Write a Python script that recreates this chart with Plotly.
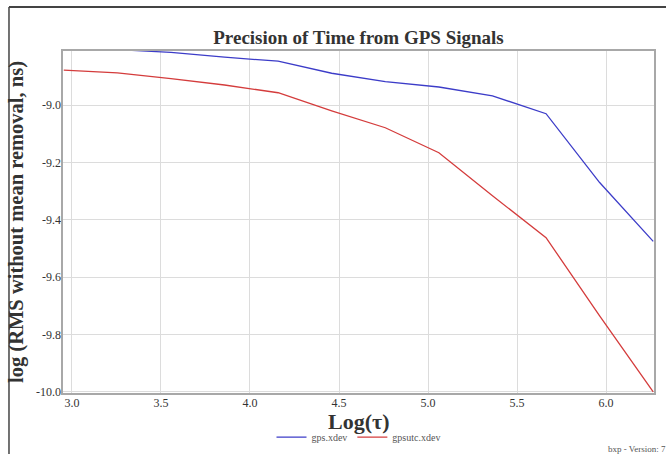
import plotly.graph_objects as go

# log10(tau) sample points
log_tau = [2.954, 3.255, 3.556, 3.857, 4.158, 4.459, 4.760, 5.061, 5.362, 5.663, 5.964, 6.265]

gps_xdev = [None, -8.807, -8.816, -8.833, -8.847, -8.889, -8.918, -8.937, -8.968, -9.030, -9.270, -9.475]
gpsutc_xdev = [-8.878, -8.888, -8.908, -8.930, -8.957, -9.020, -9.079, -9.166, -9.316, -9.462, -9.735, -10.000]

y_ticks = [-9.0, -9.2, -9.4, -9.6, -9.8, -10.0]
x_ticks = [3.0, 3.5, 4.0, 4.5, 5.0, 5.5, 6.0]

SERIF = "Liberation Serif, Times New Roman, serif"
TEXT = "#333333"

fig = go.Figure()
fig.add_trace(go.Scatter(
    x=log_tau, y=gps_xdev, mode="lines", name="gps.xdev",
    line=dict(color="#3c3cc8", width=1.3), connectgaps=False,
))
fig.add_trace(go.Scatter(
    x=log_tau, y=gpsutc_xdev, mode="lines", name="gpsutc.xdev",
    line=dict(color="#d43c3c", width=1.3),
))

# outer frame of the picture (top and left edges)
fig.add_shape(type="line", xref="paper", yref="paper",
              x0=-0.0894, x1=1.03, y0=1.125, y1=1.125,
              line=dict(color="#444444", width=2))
fig.add_shape(type="line", xref="paper", yref="paper",
              x0=-0.0894, x1=-0.0894, y0=1.125, y1=-0.2,
              line=dict(color="#444444", width=1.5))
# plot-area frame
fig.add_shape(type="rect", xref="paper", yref="paper",
              x0=0, x1=1, y0=0, y1=1,
              line=dict(color="#a8a8a8", width=2))

# x-axis title placed by hand (axis title standoff can't get close enough)
fig.add_annotation(
    text="<b>Log(τ)</b>", xref="paper", yref="paper",
    x=0.5, y=-0.081, xanchor="center", yanchor="middle", showarrow=False,
    font=dict(family=SERIF, size=22, color=TEXT),
)
fig.add_annotation(
    text="bxp - Version: 7", xref="paper", yref="paper",
    x=0.918, y=-0.16, xanchor="left", yanchor="middle", showarrow=False,
    font=dict(family=SERIF, size=9, color="#555555"),
)

fig.update_layout(
    width=666, height=454,
    margin=dict(l=62, r=11, t=50, b=60, autoexpand=False),
    paper_bgcolor="white", plot_bgcolor="white",
    title=dict(text="<b>Precision of Time from GPS Signals</b>",
               xref="paper", x=0.5, xanchor="center", y=0.918, yanchor="middle",
               font=dict(family=SERIF, size=19, color=TEXT)),
    xaxis=dict(
        range=[2.944, 6.275], tickvals=x_ticks, ticktext=[f"{v:.1f}" for v in x_ticks],
        showgrid=True, gridcolor="#dcdcdc", gridwidth=1, zeroline=False,
        showline=False, automargin=False,
        ticks="", tickfont=dict(family=SERIF, size=12, color=TEXT),
    ),
    yaxis=dict(
        range=[-10.007, -8.808], tickvals=y_ticks, ticktext=[f"{v:.1f}" for v in y_ticks],
        showgrid=True, gridcolor="#dcdcdc", gridwidth=1, zeroline=False,
        showline=False, automargin=False,
        ticks="", tickfont=dict(family=SERIF, size=12, color=TEXT),
        title=dict(text="<b>log (RMS without mean removal, ns)</b>",
                   font=dict(family=SERIF, size=20.5, color=TEXT), standoff=6),
    ),
    legend=dict(
        orientation="h", x=0.5, xanchor="center", y=-0.083, yanchor="top",
        font=dict(family=SERIF, size=10, color="#555555"),
        itemwidth=30, tracegroupgap=0,
    ),
    showlegend=True,
)

fig.write_html("out.html", config={"displayModeBar": False},
               post_script="document.body.style.margin='0';")
